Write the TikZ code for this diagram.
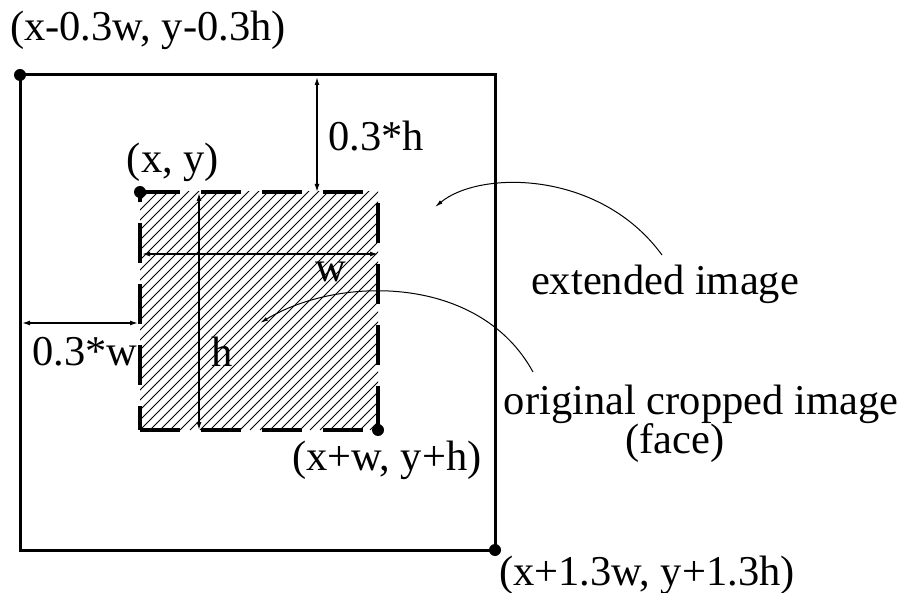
\documentclass[tikz,border=0pt]{standalone}
\usepackage{fontspec}
\setmainfont{Liberation Serif}
\usetikzlibrary{arrows.meta}
\begin{document}
\begin{tikzpicture}[x=1pt,y=-1pt,
  lbl/.style={font=\fontsize{42.5}{46}\selectfont, inner sep=0pt},
  dotn/.style={circle, fill=black, inner sep=0pt, minimum size=12pt},
  dimarrow/.style={line width=1.4pt, {Latex[length=8pt,width=5pt]}-{Latex[length=8pt,width=5pt]}},
  curv/.style={line width=1pt, -{Latex[length=8pt,width=4pt]}},
  dashedge/.style={line width=3.5pt, dash pattern=on 40pt off 21pt},
]
\useasboundingbox (0,0) rectangle (902,593);

% hatched inner region
\begin{scope}
  \clip (140,192) rectangle (378,430);
  \foreach \k in {0,...,48}
    \draw[line width=0.9pt] ({140+\k*10-240},430) -- ++(240,-240);
\end{scope}

% inner dashed box
\draw[dashedge] (140,192) -- (378,192);
\draw[dashedge, dash phase=50pt] (378,192) -- (378,430);
\draw[dashedge] (140,430) -- (378,430);
\draw[dashedge, dash phase=30pt] (140,192) -- (140,430);

% outer box
\draw[line width=3pt] (20,75) rectangle (495,550);

% corner dots
\node[dotn] (A) at (20,75) {};
\node[dotn] (B) at (140,192) {};
\node[dotn] (C) at (378,430) {};
\node[dotn] (D) at (495,550) {};

% labels
\node[lbl] (lA) at (148,30) {(x-0.3w, y-0.3h)};
\node[lbl] (lB) at (173,162) {(x, y)};
\node[lbl] (lC) at (387,460) {(x+w, y+h)};
\node[lbl] (lD) at (647,575) {(x+1.3w, y+1.3h)};
\node[lbl] (lh3) at (376,136) {0.3*h};
\node[lbl] (lw) at (331,272) {w};
\node[lbl] (lh) at (222,352) {h};
\node[lbl] (lw3) at (85,352) {0.3*w};
\node[lbl] (ext) at (665,284) {extended image};
\node[lbl] (orig) at (701,404) {original cropped image};
\node[lbl] (face) at (675,443) {(face)};

% dimension arrows
\coordinate (h3a) at (317,77);
\coordinate (h3b) at (317,192);
\draw[dimarrow] (h3a) -- (h3b);
\coordinate (wa) at (142,254);
\coordinate (wb) at (378,254);
\draw[dimarrow] (wa) -- (wb);
\coordinate (ha) at (199,193);
\coordinate (hb) at (199,430);
\draw[dimarrow] (ha) -- (hb);
\coordinate (w3a) at (22,323);
\coordinate (w3b) at (138,323);
\draw[dimarrow] (w3a) -- (w3b);

% curved pointers
\coordinate (e1) at (662,255);
\coordinate (e2) at (435,207);
\draw[curv] (e1) .. controls (600,170) and (480,170) .. (e2);
\coordinate (o1) at (533,372);
\coordinate (o2) at (260,323);
\draw[curv] (o1) .. controls (480,275) and (340,275) .. (o2);
\end{tikzpicture}
\end{document}
